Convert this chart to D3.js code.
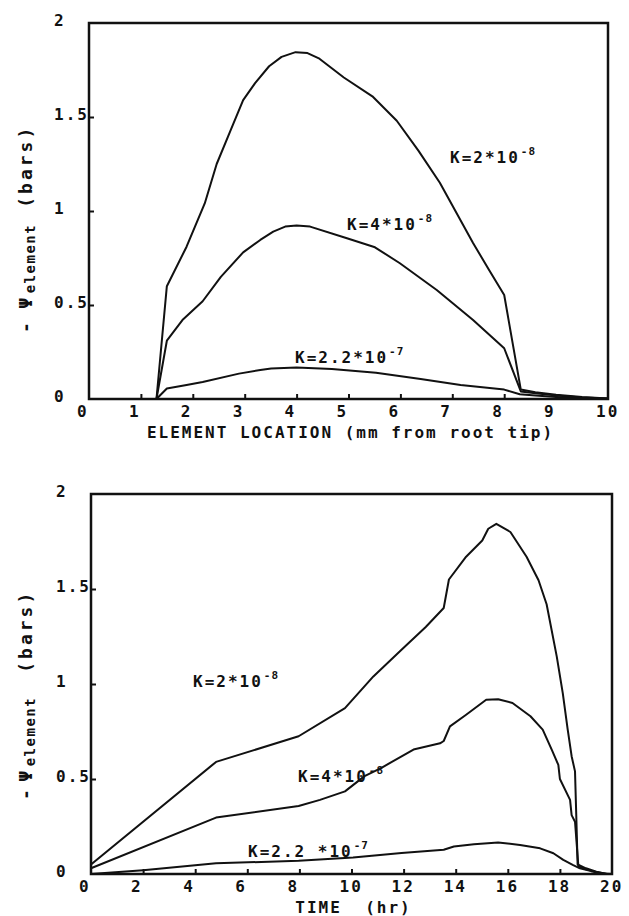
<!DOCTYPE html>
<html>
  <head>
    <meta charset="UTF-8">
    <title>Element water potential</title>
    <script src="https://cdn.jsdelivr.net/npm/d3@7"></script>
    <style>
      body { margin: 0; background: #fff; }
      text { font-family: "DejaVu Sans Mono", monospace;
             font-weight: bold;
             fill: #111; }
    </style>
  </head>
  <body>
    <script>
      // ---- data ----
      // top panel: -psi (bars) vs element location (mm from root tip)
      var locK2e8 = [[1.3,0.0],[1.5,0.60],[1.88,0.81],[2.23,1.04],[2.46,1.25],[2.73,1.43],
        [2.97,1.59],[3.2,1.68],[3.47,1.77],[3.71,1.82],[3.98,1.845],[4.21,1.84],[4.44,1.81],
        [4.91,1.71],[5.46,1.61],[5.93,1.48],[6.35,1.32],[6.76,1.15],[7.1,0.98],[7.4,0.83],
        [7.7,0.69],[8.0,0.553],[8.32,0.05],[8.6,0.036],[9.0,0.022],[9.5,0.01],[10,0.003]];
      var locK4e8 = [[1.3,0.0],[1.5,0.31],[1.8,0.42],[2.19,0.52],[2.54,0.65],[2.97,0.78],
        [3.3,0.846],[3.55,0.89],[3.78,0.917],[4.0,0.923],[4.26,0.917],[4.97,0.855],[5.51,0.807],
        [5.99,0.722],[6.7,0.58],[7.4,0.42],[8.0,0.27],[8.32,0.04],[8.6,0.03],[9.0,0.018],
        [9.5,0.008],[10,0.002]];
      var locK22e7 = [[1.3,0.0],[1.5,0.056],[1.88,0.075],[2.19,0.09],[2.89,0.135],[3.3,0.154],
        [3.51,0.162],[4.0,0.168],[4.68,0.16],[5.53,0.14],[6.39,0.106],[7.16,0.075],[8.0,0.05],
        [8.3,0.025],[8.6,0.018],[9.0,0.011],[9.5,0.004],[10,0.001]];

      // bottom panel: -psi (bars) vs time (hr)
      var timeK2e8 = [[0,0.05],[4.8,0.59],[7.97,0.725],[9.75,0.873],[10.84,1.04],[11.92,1.18],
        [12.85,1.3],[13.54,1.4],[13.74,1.55],[14.4,1.67],[15.02,1.755],[15.25,1.817],[15.56,1.843],
        [16.1,1.8],[16.72,1.67],[17.18,1.546],[17.49,1.42],[17.88,1.144],[18.11,0.952],[18.3,0.76],
        [18.45,0.62],[18.58,0.54],[18.63,0.3],[18.68,0.05],[19.0,0.03],[19.4,0.012],[19.8,0.0],[20,0]];
      var timeK4e8 = [[0,0.03],[4.8,0.297],[7.97,0.358],[8.79,0.39],[9.75,0.435],[10.5,0.515],
        [11.15,0.559],[12.38,0.655],[13.4,0.688],[13.54,0.7],[13.78,0.777],[14.4,0.838],[15.17,0.917],
        [15.63,0.92],[16.18,0.9],[16.87,0.83],[17.34,0.76],[17.69,0.653],[17.94,0.574],[18.0,0.5],
        [18.39,0.39],[18.45,0.31],[18.58,0.275],[18.71,0.04],[19.0,0.025],[19.4,0.01],[19.8,0.0],[20,0]];
      var timeK22e7 = [[0,0.0],[2,0.02],[4.8,0.056],[7.97,0.07],[10.06,0.087],[11.92,0.11],
        [13.54,0.128],[13.93,0.145],[14.7,0.157],[15.63,0.166],[16.47,0.153],[17.24,0.135],
        [17.75,0.109],[18.13,0.074],[18.51,0.047],[18.77,0.03],[19.2,0.015],[19.6,0.003],[20,0]];

      var locTicks = [1,2,3,4,5,6,7,8,9];
      var locTickLabels = ["0","1","2","3","4","5","6","7","8","9","10"];
      var timeTicks = [2,4,6,8,10,12,14,16,18];
      var timeTickLabels = ["0","2","4","6","8","10","12","14","16","18","20"];
      var psiTicks = [0.5,1,1.5];
      var psiTickLabels = ["0","0.5","1","1.5","2"];

      var svg = d3.select("body").append("svg")
        .attr("width", 629)
        .attr("height", 916);

      function panel(opt) {
        var x = d3.scaleLinear().domain(opt.xDomain).range([opt.left, opt.right]);
        var y = d3.scaleLinear().domain([0, 2]).range([opt.bottom, opt.top]);
        var g = svg.append("g");

        // inward ticks
        g.append("g")
          .attr("transform", "translate(0," + opt.bottom + ")")
          .call(d3.axisBottom(x).tickValues(opt.xTicks).tickSizeInner(-5).tickSizeOuter(0).tickFormat(""))
          .call(function (a) { a.select(".domain").remove(); })
          .selectAll("line").attr("stroke", "#111").attr("stroke-width", 2);
        g.append("g")
          .attr("transform", "translate(" + opt.left + ",0)")
          .call(d3.axisLeft(y).tickValues(psiTicks).tickSizeInner(-5).tickSizeOuter(0).tickFormat(""))
          .call(function (a) { a.select(".domain").remove(); })
          .selectAll("line").attr("stroke", "#111").attr("stroke-width", 2);

        // tick labels
        var xLabelVals = d3.range(opt.xDomain[0], opt.xDomain[1] + 0.001, opt.xStep);
        g.selectAll(".xl").data(xLabelVals).enter().append("text")
          .attr("x", function (d) { return x(d) - 12; })
          .attr("y", opt.bottom + 18)
          .attr("font-size", 16)
          .attr("letter-spacing", 2)
          .text(function (d, i) { return opt.xLabels[i]; });
        g.selectAll(".yl").data([0, 0.5, 1, 1.5, 2]).enter().append("text")
          .attr("x", opt.left - 35)
          .attr("y", function (d) { return y(d) + 3; })
          .attr("font-size", 16)
          .attr("letter-spacing", 2)
          .text(function (d, i) { return psiTickLabels[i]; });

        // curves
        var line = d3.line()
          .x(function (d) { return x(d[0]); })
          .y(function (d) { return y(d[1]); });
        g.selectAll(".curve").data(opt.series).enter().append("path")
          .attr("d", line)
          .attr("fill", "none")
          .attr("stroke", "#111")
          .attr("stroke-width", 2)
          .attr("stroke-linejoin", "round");

        // frame
        g.append("rect")
          .attr("x", opt.left).attr("y", opt.top)
          .attr("width", opt.right - opt.left)
          .attr("height", opt.bottom - opt.top)
          .attr("fill", "none")
          .attr("stroke", "#111")
          .attr("stroke-width", 2.5);

        // curve labels
        opt.labels.forEach(function (l) {
          var t = g.append("text")
            .attr("x", l.x).attr("y", l.y)
            .attr("font-size", 16)
            .attr("letter-spacing", 2)
            .text(l.main);
          t.append("tspan")
            .attr("font-size", 11)
            .attr("dy", -8)
            .attr("dx", 1)
            .attr("letter-spacing", 1)
            .text(l.sup);
        });

        // axis title
        g.append("text")
          .attr("x", (opt.left + opt.right) / 2 + 2)
          .attr("y", opt.bottom + 39)
          .attr("text-anchor", "middle")
          .attr("font-size", 16)
          .attr("letter-spacing", 2)
          .attr("xml:space", "preserve")
          .text(opt.xTitle);

        // y title: - psi_element (bars)
        var yt = g.append("text")
          .attr("transform", "translate(32," + opt.yTitleStart + ") rotate(-90)")
          .attr("font-size", 18)
          .attr("letter-spacing", 1.5)
          .attr("xml:space", "preserve");
        yt.append("tspan").text("-");
        yt.append("tspan").attr("dx", opt.psiGap).text("\u03A8");
        yt.append("tspan").attr("font-size", 14).attr("dy", 3).attr("dx", 3).text("element");
        yt.append("tspan").attr("dy", -3).attr("dx", opt.barsGap).attr("letter-spacing", 3).text("(bars)");
      }

      panel({
        left: 89, right: 608, top: 23, bottom: 399,
        xDomain: [0, 10], xStep: 1, xTicks: locTicks, xLabels: locTickLabels,
        series: [locK2e8, locK4e8, locK22e7],
        labels: [
          { x: 450, y: 163, main: "K=2*10", sup: "-8" },
          { x: 347, y: 230, main: "K=4*10", sup: "-8" },
          { x: 295, y: 363, main: "K=2.2*10", sup: "-7" }
        ],
        xTitle: "ELEMENT LOCATION (mm from root tip)",
        yTitleStart: 333, psiGap: 12, barsGap: 16
      });

      panel({
        left: 91, right: 612, top: 494, bottom: 874,
        xDomain: [0, 20], xStep: 2, xTicks: timeTicks, xLabels: timeTickLabels,
        series: [timeK2e8, timeK4e8, timeK22e7],
        labels: [
          { x: 193, y: 687, main: "K=2*10", sup: "-8" },
          { x: 298, y: 782, main: "K=4*10", sup: "-8" },
          { x: 248, y: 857, main: "K=2.2 *10", sup: "-7" }
        ],
        xTitle: "TIME  (hr)",
        yTitleStart: 800, psiGap: 6, barsGap: 24
      });
    </script>
  </body>
</html>
